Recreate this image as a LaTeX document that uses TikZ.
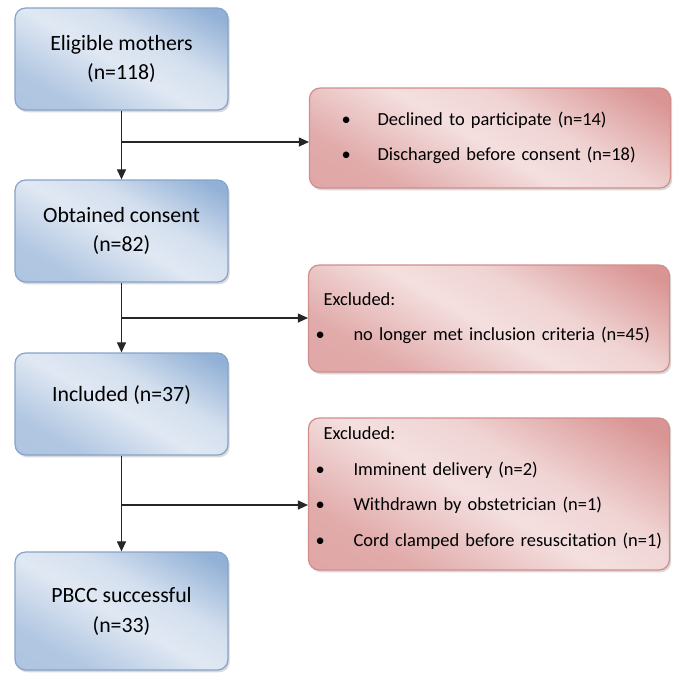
\documentclass[tikz,border=0pt]{standalone}
\usepackage{fontspec}
\setmainfont{Carlito}
\usetikzlibrary{positioning,arrows.meta,shadows}

\definecolor{blueDark}{RGB}{146,177,214}
\definecolor{blueLight}{RGB}{224,232,243}
\definecolor{blueEdge}{RGB}{135,163,201}
\definecolor{redDark}{RGB}{217,149,148}
\definecolor{redLight}{RGB}{244,223,223}
\definecolor{redEdge}{RGB}{210,142,140}

\pgfdeclareverticalshading{bluewash}{100bp}{color(0bp)=(blueDark!70!blueLight); color(28bp)=(blueDark!60!blueLight);
    color(48bp)=(blueLight); color(60bp)=(blueLight!85!blueDark); color(80bp)=(blueDark); color(100bp)=(blueDark)}
\pgfdeclareverticalshading{redwash}{100bp}{color(0bp)=(redDark!85!redLight); color(28bp)=(redDark!70!redLight);
    color(48bp)=(redLight); color(60bp)=(redLight!85!redDark); color(80bp)=(redDark); color(100bp)=(redDark)}

\begin{document}
\begin{tikzpicture}[
    x=0.02cm, y=-0.02cm,
    box/.style={rounded corners=6pt, line width=0.7pt, inner sep=0pt, shade,
        drop shadow={shadow xshift=1pt, shadow yshift=-1.3pt, opacity=0.3}},
    stage/.style={box, shading=bluewash, shading angle=-30, draw=blueEdge,
        minimum width=4.26cm, minimum height=2.04cm,
        align=center, font=\fontsize{12.4}{17}\selectfont},
    drop/.style={box, shading=redwash, shading angle=-30, draw=redEdge,
        minimum width=7.22cm, text width=7.06cm, inner xsep=0.08cm,
        align=left, font=\fontsize{10.5}{20}\selectfont},
    arr/.style={-{Stealth[length=2mm, width=1.8mm, inset=0pt]}, line width=0.6pt, black!85},
]
\useasboundingbox (0,0) rectangle (675,674);

% Main flow
\node[stage] (elig) at (121.5,59) {Eligible mothers\\(n=118)};
\node[stage] (consent) at (121.5,231) {Obtained consent\\(n=82)};
\node[stage] (incl) at (121.5,404) {Included (n=37)\\[-4.6pt]\mbox{}};
\node[stage, minimum height=2.36cm] (pbcc) at (121.5,611) {PBCC successful\\(n=33)};

% Drop-outs
\node[drop, minimum height=2cm] (declined) at (490,138)
    {\hspace*{0.56cm}\makebox[0.72cm][l]{\textbullet}Declined to participate (n=14)\\
     \hspace*{0.56cm}\makebox[0.72cm][l]{\textbullet}Discharged before consent (n=18)};
\node[drop, minimum height=2.14cm] (excl1) at (489,318.5)
    {\hspace*{0.22cm}Excluded:\\
     \hspace*{0.06cm}\makebox[0.76cm][l]{\textbullet}no longer met inclusion criteria (n=45)};
\node[drop, minimum height=3.04cm, font=\fontsize{10.5}{20.4}\selectfont] (excl2) at (489,494)
    {\hspace*{0.22cm}Excluded:\\
     \hspace*{0.06cm}\makebox[0.76cm][l]{\textbullet}Imminent delivery (n=2)\\
     \hspace*{0.06cm}\makebox[0.76cm][l]{\textbullet}Withdrawn by obstetrician (n=1)\\
     \hspace*{0.06cm}\makebox[0.76cm][l]{\textbullet}Cord clamped before resuscitation (n=1)\\[-12pt]\mbox{}};

% Branch points
\coordinate (j1) at (121.5,142);
\coordinate (j2) at (121.5,318);
\coordinate (j3) at (121.5,505);

% Arrows
\draw[arr] (elig) -- (consent);
\draw[arr] (consent) -- (incl);
\draw[arr] (incl) -- (pbcc);
\draw[arr] (j1) -- (declined.west |- j1);
\draw[arr] (j2) -- (excl1.west |- j2);
\draw[arr] (j3) -- (excl2.west |- j3);

\end{tikzpicture}
\end{document}
